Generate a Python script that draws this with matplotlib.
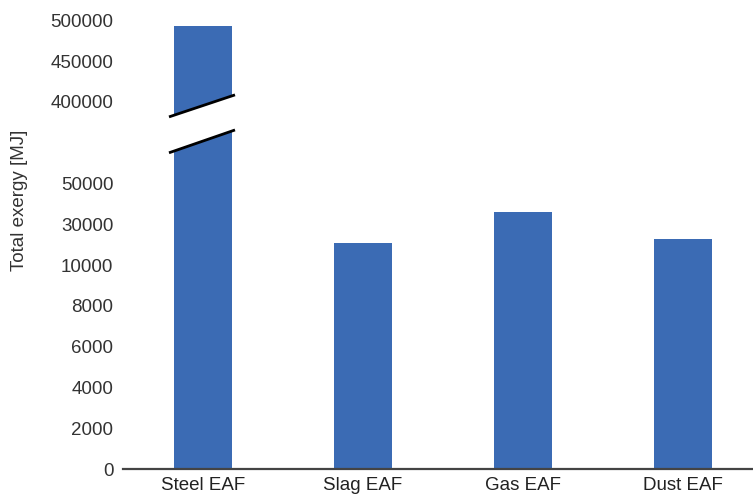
import numpy as np
import matplotlib
matplotlib.use("Agg")
import matplotlib.pyplot as plt

plt.rcParams['font.family'] = ['Liberation Sans', 'DejaVu Sans']

categories = ['Steel EAF', 'Slag EAF', 'Gas EAF', 'Dust EAF']
values = [493000, 20800, 36200, 22600]
tick_values = [0, 2000, 4000, 6000, 8000, 10000, 30000, 50000, 400000, 450000, 500000]
tick_slots = [0, 1, 2, 3, 4, 5, 6, 7, 9, 10, 11]
tick_labels = [str(v) for v in tick_values]

def to_slot(v):
    return np.interp(v, tick_values, tick_slots)

fig = plt.figure(figsize=(7.53, 4.98), dpi=100)
ax = fig.add_axes([123/753, 29/498, 630/753, 469/498])

x = np.arange(len(categories))
heights = to_slot(values)
ax.bar(x, heights, width=0.3625, color='#3B6BB4', zorder=2)

# axis break marks on the first bar
bx0, bx1 = -0.2125, 0.2
poly_x = [bx0, bx1, bx1, bx0]
poly_y = [8.63, 9.17, 8.31, 7.75]
ax.fill(poly_x, poly_y, color='white', zorder=3, lw=0)
ax.plot([bx0, bx1], [8.63, 9.17], color='black', lw=2, zorder=4, solid_capstyle='butt')
ax.plot([bx0, bx1], [7.75, 8.31], color='black', lw=2, zorder=4, solid_capstyle='butt')

fs = 13.5
ax.set_xlim(-0.5, 3.4375)
ax.set_ylim(0, 469/40.8)
ax.set_yticks(tick_slots)
ax.set_yticklabels(tick_labels, fontsize=fs, color='#333333')
ax.set_xticks(x)
ax.set_xticklabels(categories, fontsize=fs, color='#222222')
ax.tick_params(axis='y', length=0, pad=7)
ax.tick_params(axis='x', length=0, pad=6)
for s in ['top', 'right', 'left']:
    ax.spines[s].set_visible(False)
ax.spines['bottom'].set_color('#444444')
ax.spines['bottom'].set_linewidth(1.6)
ax.spines['bottom'].set_zorder(5)

fig.text(20/753, 1 - 200/498, 'Total exergy [MJ]', rotation=90, ha='center', va='center',
         fontsize=fs, color='#333333')

fig.savefig('out.png', dpi=100, facecolor='white')
